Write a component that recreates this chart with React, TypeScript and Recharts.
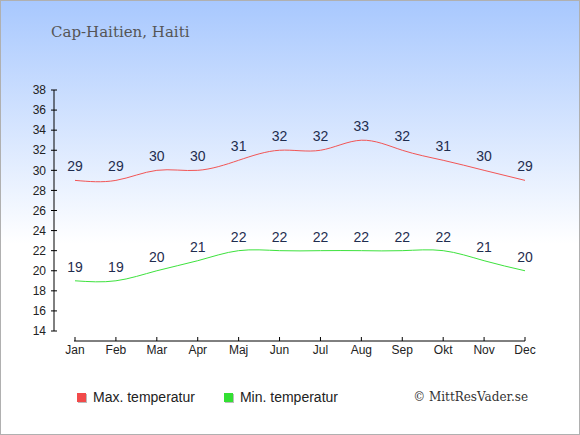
import React from 'react'
import { LineChart, Line, XAxis, YAxis, LabelList } from 'recharts'

const months = ['Jan', 'Feb', 'Mar', 'Apr', 'Maj', 'Jun', 'Jul', 'Aug', 'Sep', 'Okt', 'Nov', 'Dec']
const maxTemp = [29, 29, 30, 30, 31, 32, 32, 33, 32, 31, 30, 29]
const minTemp = [19, 19, 20, 21, 22, 22, 22, 22, 22, 22, 21, 20]
const yTicks = [14, 16, 18, 20, 22, 24, 26, 28, 30, 32, 34, 36, 38]

const data = months.map((m, i) => ({ month: m, max: maxTemp[i], min: minTemp[i] }))

const SANS = '"Liberation Sans", Arial, sans-serif'
const SERIF = '"DejaVu Serif", serif'

function YTick(props: any) {
  const { x, y, payload } = props
  // x is text position: axis - tickSize(3) - tickMargin(5)
  const ax = x + 8
  return (
    <g>
      <line x1={ax - 3} x2={ax + 3} y1={y} y2={y} stroke="#000" />
      <text x={x} y={y} dy="0.35em" textAnchor="end" fontSize={12} fontFamily={SANS} fill="#222">
        {payload.value}
      </text>
    </g>
  )
}

function PointLabel(props: any) {
  const { x, y, value } = props
  return (
    <text x={x} y={y - 9} textAnchor="middle" fontSize={14} fontFamily={SANS} fill="#1f2d4f">
      {value}
    </text>
  )
}

export default function App() {
  return (
    <div style={{ position: 'absolute', left: 0, top: 0, width: 580, height: 435, boxSizing: 'border-box',
      border: '1px solid #b0b0b0', background: 'linear-gradient(to bottom, #a8c8fe 0%, #ffffff 56%, #ffffff 100%)' }}>
      <div style={{ position: 'absolute', left: 0, top: 0 }}>
        <LineChart width={578} height={433} data={data} margin={{ top: 89, right: 54, bottom: 63, left: 0 }}>
          <XAxis dataKey="month" padding={{ left: 21, right: 0 }} height={30} tickSize={-4} tickMargin={8}
            axisLine={{ stroke: '#000', strokeDasharray: '0 20 451 40' }} tickLine={{ stroke: '#000' }}
            tick={{ fontSize: 12, fontFamily: SANS, fill: '#222' }} interval={0} />
          <YAxis domain={[14, 38]} ticks={yTicks} width={53} padding={{ top: 0, bottom: 10 }} tickSize={3} tickMargin={5}
            axisLine={{ stroke: '#000', strokeDasharray: '241 40' }} tickLine={false} tick={<YTick />} interval={0} />
          <Line type="natural" dataKey="max" stroke="#f25555" strokeWidth={1} dot={false} isAnimationActive={false}>
            <LabelList dataKey="max" content={<PointLabel />} />
          </Line>
          <Line type="natural" dataKey="min" stroke="#3de23d" strokeWidth={1} dot={false} isAnimationActive={false}>
            <LabelList dataKey="min" content={<PointLabel />} />
          </Line>
        </LineChart>
      </div>
      <div style={{ position: 'absolute', left: 50, top: 22, fontFamily: SERIF, fontSize: 15, color: '#555' }}>
        Cap-Haitien, Haiti
      </div>
      <div style={{ position: 'absolute', left: 76, top: 388, display: 'flex', alignItems: 'center', fontFamily: SANS, fontSize: 14, color: '#222' }}>
        <span style={{ width: 9, height: 9, background: '#f24a4a', boxShadow: '1px 1px 0 #bbb', marginRight: 7 }} />
        <span>Max. temperatur</span>
        <span style={{ width: 9, height: 9, background: '#33e033', boxShadow: '1px 1px 0 #bbb', marginLeft: 29, marginRight: 7 }} />
        <span>Min. temperatur</span>
      </div>
      <div style={{ position: 'absolute', right: 51, top: 389, fontFamily: SERIF, fontSize: 12, color: '#333' }}>
        © MittResVader.se
      </div>
    </div>
  )
}
